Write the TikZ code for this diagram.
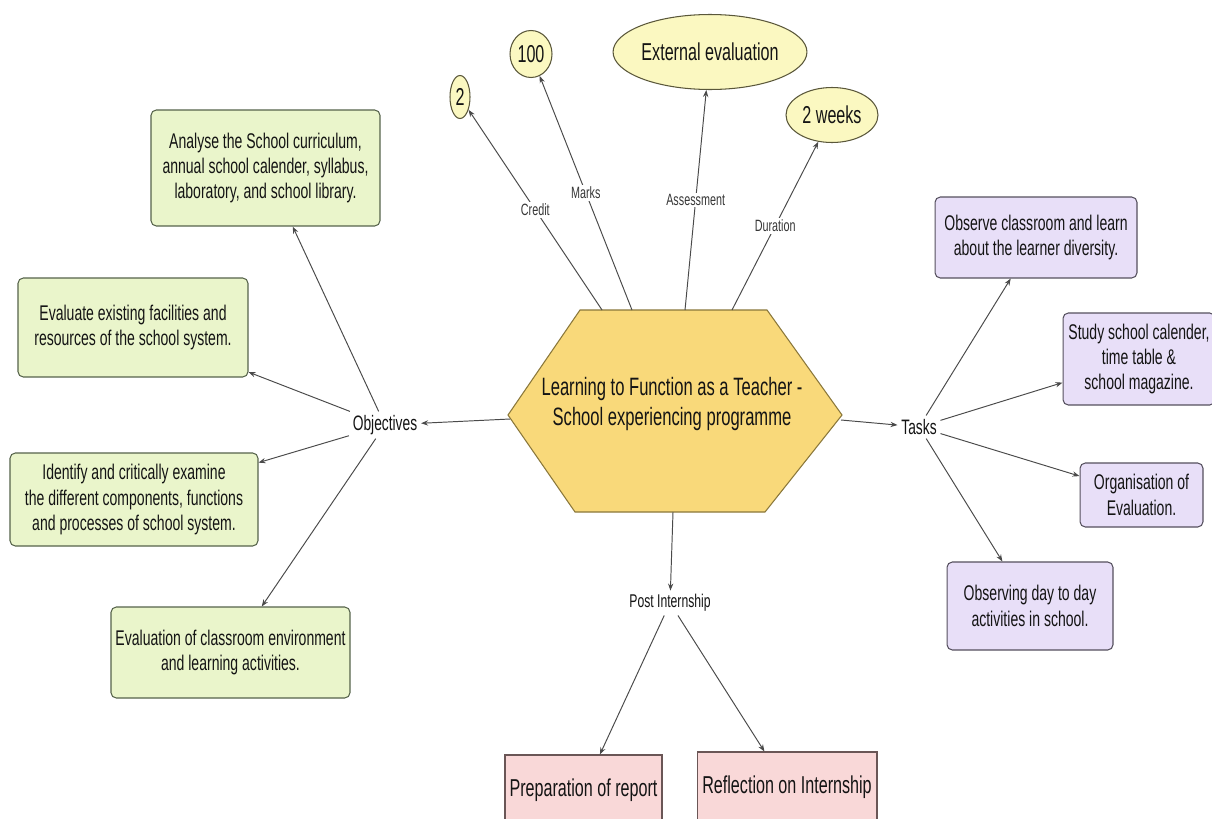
\documentclass[tikz,border=0pt]{standalone}
\usepackage{fontspec}
\setmainfont[FakeStretch=0.66]{Liberation Sans}
\usetikzlibrary{shapes.geometric,arrows.meta}
\definecolor{greenfill}{HTML}{EAF5CB}
\definecolor{greenedge}{HTML}{56634A}
\definecolor{purplefill}{HTML}{E8DFF8}
\definecolor{purpleedge}{HTML}{55505E}
\definecolor{pinkfill}{HTML}{F9D8D8}
\definecolor{pinkedge}{HTML}{6A5656}
\definecolor{hexfill}{HTML}{F9D97A}
\definecolor{hexedge}{HTML}{8A773A}
\definecolor{ellfill}{HTML}{FBF8C1}
\definecolor{elledge}{HTML}{5A573A}
\definecolor{linec}{HTML}{4A4A4A}
\definecolor{textc}{HTML}{141414}
\begin{document}
\begin{tikzpicture}[x=0.02cm,y=-0.02cm,
  boxbase/.style={rounded corners=3pt, align=center, inner sep=0pt, text=textc,
    font=\fontsize{12.1}{14.5}\selectfont, line width=0.6pt},
  gbox/.style={boxbase, draw=greenedge, fill=greenfill},
  pbox/.style={boxbase, draw=purpleedge, fill=purplefill},
  rbox/.style={boxbase, rounded corners=0pt, draw=pinkedge, fill=pinkfill, font=\fontsize{13.9}{15}\selectfont},
  ell/.style={ellipse, draw=elledge, fill=ellfill, inner sep=0pt, line width=0.6pt, text=textc,
    font=\fontsize{13.9}{15}\selectfont},
  conn/.style={draw=linec, line width=0.55pt, -{Stealth[length=4pt,width=3pt]}},
  lbl/.style={fill=white, inner sep=1pt, text=textc!85, font=\fontsize{9.3}{10}\selectfont},
  hub/.style={inner sep=2pt, text=textc, font=\fontsize{11.9}{13}\selectfont}
]
\useasboundingbox (0,0) rectangle (1212,818);
\clip (0,0) rectangle (1212,818);
\fill[white] (0,0) rectangle (1212,818);

% central hexagon
\draw[fill=hexfill, draw=hexedge, line width=0.6pt]
  (580,310) -- (767,310) -- (842,415) -- (765,512) -- (575,512) -- (508,415) -- cycle;
\node[align=center, text=textc, font=\fontsize{14.3}{17.6}\selectfont] (hex) at (672,404)
  {Learning to Function as a Teacher -\\School experiencing programme};
\coordinate (hexL) at (510,419);
\coordinate (hexR) at (841,420);
\coordinate (hexB) at (673,512);
\coordinate (t1) at (602,310);
\coordinate (t2) at (632,310);
\coordinate (t3) at (685,310);
\coordinate (t4) at (732,310);

% top ellipses
\node[ell, minimum width=0.40cm, minimum height=0.86cm] (e2) at (460,97) {2};
\node[ell, minimum width=0.84cm, minimum height=0.94cm] (e100) at (531,54) {100};
\node[ell, minimum width=3.28cm, minimum height=1.50cm] (eext) at (710,52) {External evaluation};
\node[ell, minimum width=1.84cm, minimum height=1.10cm] (eweeks) at (832,115) {2 weeks};

\draw[conn] (t1) -- (e2) node[lbl, pos=0.5] {Credit};
\draw[conn] (t2) -- (e100) node[lbl, pos=0.5] {Marks};
\draw[conn] (t3) -- (eext) node[lbl, pos=0.5] {Assessment};
\draw[conn] (t4) -- (eweeks) node[lbl, pos=0.5] {Duration};

% hubs
\node[hub] (obj) at (385,425) {Objectives};
\node[hub] (tasks) at (919,427) {Tasks};
\node[hub, font=\fontsize{10.5}{12}\selectfont] (post) at (670,603) {Post Internship};

\draw[conn] (hexL) -- (obj);
\draw[conn] (hexR) -- (tasks);
\draw[conn] (hexB) -- (post);

% objectives boxes
\node[gbox, minimum width=4.58cm, minimum height=2.32cm] (bA) at (265.5,168)
  {Analyse the School curriculum,\\annual school calender, syllabus,\\laboratory, and school library.};
\node[gbox, minimum width=4.60cm, minimum height=1.98cm] (bB) at (133,327.5)
  {Evaluate existing facilities and\\resources of the school system.};
\node[gbox, minimum width=4.96cm, minimum height=1.86cm] (bC) at (134,499.5)
  {Identify and critically examine\\the different components, functions\\and processes of school system.};
\node[gbox, minimum width=4.78cm, minimum height=1.82cm] (bD) at (230.5,652.5)
  {Evaluation of classroom environment\\and learning activities.};

\draw[conn] (obj) -- (bA);
\draw[conn] (obj) -- (bB);
\draw[conn] (obj) -- (bC);
\draw[conn] (obj) -- (bD);

% task boxes
\node[pbox, minimum width=4.04cm, minimum height=1.62cm] (bE) at (1036,237.5)
  {Observe classroom and learn\\about the learner diversity.};
\node[pbox, minimum width=3.04cm, minimum height=1.84cm] (bF) at (1139,359)
  {Study school calender,\\time table \&\\school magazine.};
\node[pbox, minimum width=2.46cm, minimum height=1.28cm] (bG) at (1141.5,495)
  {Organisation of\\Evaluation.};
\node[pbox, minimum width=3.32cm, minimum height=1.76cm] (bH) at (1030,606)
  {Observing day to day\\activities in school.};

\draw[conn] (tasks) -- (bE);
\draw[conn] (tasks) -- (bF);
\draw[conn] (tasks) -- (bG);
\draw[conn] (tasks) -- (bH);

% post internship boxes
\node[rbox, minimum width=3.14cm, minimum height=1.40cm] (bI) at (583.5,790) {Preparation of report};
\node[rbox, minimum width=3.60cm, minimum height=1.40cm] (bJ) at (787,787) {Reflection on Internship};

\draw[conn] (post) -- (bI);
\draw[conn] (post) -- (bJ);
\end{tikzpicture}
\end{document}
